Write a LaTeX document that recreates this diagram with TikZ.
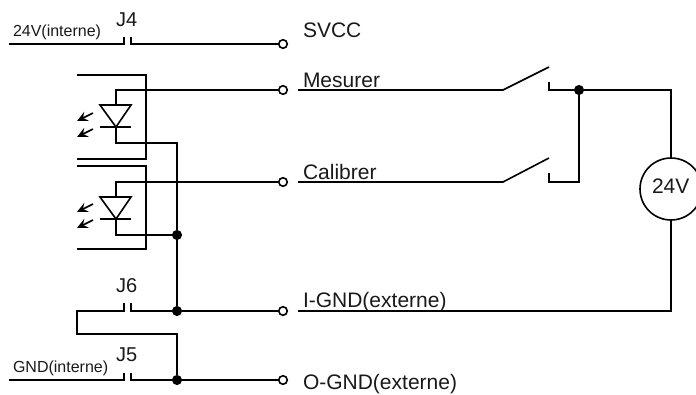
\documentclass[tikz,border=0pt]{standalone}
\usepackage{fontspec}
\setmainfont{Liberation Sans}
\usetikzlibrary{arrows.meta}
\tikzset{
  wire/.style={line width=1.2pt,black,line join=miter},
  heavy/.style={line width=1.5pt,black,line join=miter},
  thin wire/.style={line width=1.2pt,black},
  term/.style={circle,draw=black,line width=1.2pt,fill=white,minimum size=6.4pt,inner sep=0pt},
  jdot/.style={circle,fill=black,minimum size=7.6pt,inner sep=0pt},
  lab/.style={anchor=base west,inner sep=0pt,outer sep=0pt,text=black!90},
  big/.style={lab,font=\fontsize{15.75pt}{18pt}\selectfont},
  mid/.style={lab,font=\fontsize{15pt}{18pt}\selectfont},
  small/.style={lab,font=\fontsize{12pt}{14pt}\selectfont},
  led/.style={line width=1.2pt,black,-{Stealth[length=8pt,width=7.5pt,inset=3pt]}},
}
\begin{document}
\begin{tikzpicture}[x=0.75pt,y=-0.75pt]
\useasboundingbox (0,0) rectangle (696,394);
% text
\node[small] (t24) at (13,36) {24V(interne)};
\node[mid] (tJ4) at (116,26) {J4};
\node[big] (tsvcc) at (303,37) {SVCC};
\node[big] (tmes) at (303,87) {Mesurer};
\node[big] (tcal) at (303,179) {Calibrer};
\node[big] (tig) at (303,307) {I-GND(externe)};
\node[big] (tog) at (303,389) {O-GND(externe)};
\node[mid] (tJ6) at (116,292) {J6};
\node[mid] (tJ5) at (116,361) {J5};
\node[small] (tgnd) at (13,372) {GND(interne)};
% terminals, junctions, source
\node[term] (T1) at (283,44) {};
\node[term] (T2) at (283,90) {};
\node[term] (T3) at (283,182) {};
\node[term] (T4) at (283,311) {};
\node[term] (T5) at (283,380) {};
\node[jdot] (D1) at (177,235) {};
\node[jdot] (D2) at (177,311) {};
\node[jdot] (D3) at (177,380) {};
\node[jdot] (D4) at (579,90) {};
\node[circle,draw=black,line width=1.2pt,minimum size=46.5pt,inner sep=0pt] (V) at (671,189) {};
\node[big] (tv) at (652,193) {24V};
% coordinates
\coordinate (a1) at (9,44);
\coordinate (a2) at (124,44);
\coordinate (a3) at (124,37);
\coordinate (a4) at (131,37);
\coordinate (a5) at (131,44);
\coordinate (b1) at (9,380);
\coordinate (b2) at (124,380);
\coordinate (b3) at (124,373);
\coordinate (b4) at (131,373);
\coordinate (b5) at (131,380);
\coordinate (c1) at (124,303);
\coordinate (c2) at (124,311);
\coordinate (c3) at (77,311);
\coordinate (c4) at (77,334);
\coordinate (c5) at (177,334);
\coordinate (c6) at (131,303);
\coordinate (c7) at (131,311);
\coordinate (m1) at (298,90);
\coordinate (m2) at (503,90);
\coordinate (m3) at (549,67);
\coordinate (m4) at (549,82);
\coordinate (m5) at (549,90);
\coordinate (m6) at (671,90);
\coordinate (k1) at (298,182);
\coordinate (k2) at (503,182);
\coordinate (k3) at (549,158);
\coordinate (k4) at (549,173);
\coordinate (k5) at (549,182);
\coordinate (k6) at (579,182);
\coordinate (g1) at (298,311);
\coordinate (g2) at (671,311);
% J4
\draw[thin wire] (a1) -- (a2) -- (a3);
\draw[thin wire] (a4) -- (a5) -- (T1);
% J5
\draw[thin wire] (b1) -- (b2) -- (b3);
\draw[thin wire] (b4) -- (b5) -- (D3);
\draw[thin wire] (D3) -- (T5);
% J6
\draw[wire] (c1) -- (c2) -- (c3) -- (c4) -- (c5) -- (D3);
\draw[wire] (c6) -- (c7) -- (D2);
\draw[wire] (D2) -- (T4);
% switches
\draw[thin wire] (m1) -- (m2) -- (m3);
\draw[thin wire] (m4) -- (m5) -- (D4);
\draw[thin wire] (D4) -- (m6) -- (V);
\draw[thin wire] (D4) -- (k6) -- (k5) -- (k4);
\draw[thin wire] (k1) -- (k2) -- (k3);
\draw[wire] (g1) -- (g2) -- (V);
% opto 1
\coordinate (p1) at (77,75);
\coordinate (p2) at (146,75);
\coordinate (p3) at (146,159);
\coordinate (p4) at (77,159);
\draw[heavy] (p1) -- (p2) -- (p3) -- (p4);
\coordinate (w1) at (116,105);
\coordinate (w2) at (116,90);
\coordinate (w3) at (116,127);
\coordinate (w4) at (116,143);
\coordinate (w5) at (177,143);
\coordinate (w6) at (100,105);
\coordinate (w7) at (131,105);
\coordinate (w8) at (100,127);
\coordinate (w9) at (131,127);
\draw[wire] (w1) -- (w2) -- (T2);
\draw[wire] (w6) -- (w7) -- (w3) -- cycle;
\draw[wire] (w8) -- (w9);
\draw[wire] (w3) -- (w4) -- (w5) -- (D1);
\coordinate (l1) at (93,113);
\coordinate (l2) at (77,121);
\coordinate (l3) at (93,129);
\coordinate (l4) at (77,137);
\draw[led] (l1) -- (l2);
\draw[led] (l3) -- (l4);
% opto 2
\coordinate (q1) at (77,166);
\coordinate (q2) at (146,166);
\coordinate (q3) at (146,249);
\coordinate (q4) at (77,249);
\draw[heavy] (q1) -- (q2) -- (q3) -- (q4);
\coordinate (x1) at (116,197);
\coordinate (x2) at (116,182);
\coordinate (x3) at (116,219);
\coordinate (x4) at (116,235);
\coordinate (x6) at (100,197);
\coordinate (x7) at (131,197);
\coordinate (x8) at (100,219);
\coordinate (x9) at (131,219);
\draw[wire] (x1) -- (x2) -- (T3);
\draw[wire] (x6) -- (x7) -- (x3) -- cycle;
\draw[wire] (x8) -- (x9);
\draw[wire] (x3) -- (x4) -- (D1);
\draw[wire] (D1) -- (D2);
\coordinate (n1) at (93,204);
\coordinate (n2) at (77,212);
\coordinate (n3) at (93,220);
\coordinate (n4) at (77,228);
\draw[led] (n1) -- (n2);
\draw[led] (n3) -- (n4);
\end{tikzpicture}
\end{document}
